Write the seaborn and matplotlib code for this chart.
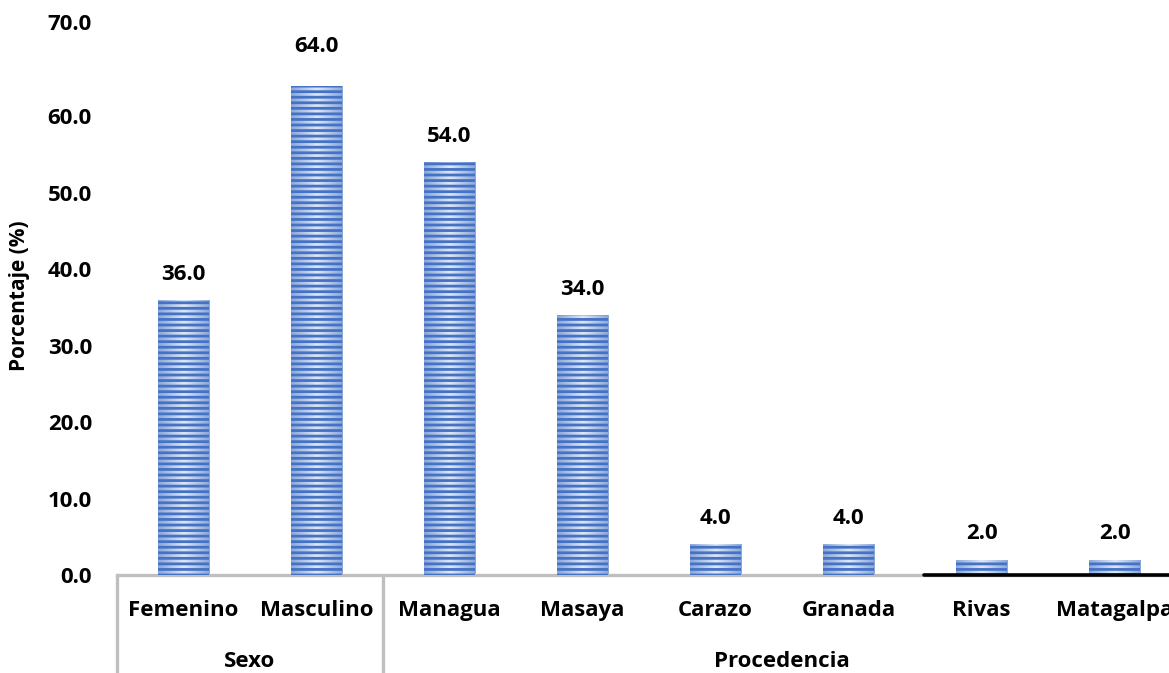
import numpy as np
import pandas as pd
import seaborn as sns
import matplotlib.pyplot as plt
import matplotlib.transforms as mtrans
from matplotlib.lines import Line2D
from matplotlib.colors import LinearSegmentedColormap

# Datos
categorias = ["Femenino", "Masculino", "Managua", "Masaya",
              "Carazo", "Granada", "Rivas", "Matagalpa"]
porcentajes = [36.0, 64.0, 54.0, 34.0, 4.0, 4.0, 2.0, 2.0]
grupos = ["Sexo", "Sexo", "Procedencia", "Procedencia",
          "Procedencia", "Procedencia", "Procedencia", "Procedencia"]
ticks_y = [0, 10, 20, 30, 40, 50, 60, 70]

sns.set_theme(style="white")
plt.rcParams["font.family"] = ["Open Sans", "DejaVu Sans"]
plt.rcParams["font.weight"] = "bold"
plt.rcParams["hatch.linewidth"] = 2.0
for k in ["text.color", "axes.labelcolor", "xtick.color", "ytick.color"]:
    plt.rcParams[k] = "black"

FS = 16
W, H = 1169, 673
fig = plt.figure(figsize=(W / 100, H / 100), dpi=100)
ax = fig.add_axes([117 / W, 98 / H, 1064 / W, 535 / H])

df = pd.DataFrame({"categoria": categorias, "porcentaje": porcentajes})
sns.barplot(data=df, x="categoria", y="porcentaje", ax=ax, width=0.39,
            color="#9DB5E3", edgecolor="#4472C4", linewidth=0, hatch="---",
            saturation=1)

# Relleno degradado (oscuro en los bordes, claro al centro) bajo las rayas
cmap = LinearSegmentedColormap.from_list(
    "barra", ["#8AA6DA", "#DFE7F6", "#8AA6DA"])
grad = np.linspace(0, 1, 256).reshape(1, -1)
for p in ax.patches:
    p.set_facecolor("none")
    p.set_zorder(3)
    x0, y0 = p.get_x(), p.get_y()
    im = ax.imshow(grad, cmap=cmap, aspect="auto", zorder=2,
                   extent=[x0, x0 + p.get_width(), y0, y0 + p.get_height()])
    im.set_clip_path(p)
ax.set_xlim(-0.5, len(categorias) - 0.5)
ax.set_ylim(0, 70)

# Etiquetas de valor (la del máximo, algo más alta)
vmax = max(porcentajes)
for cont in ax.containers:
    etiquetas = ax.bar_label(cont, fmt="%.1f", padding=11, fontsize=FS,
                             fontweight="bold", color="black")
    for et, v in zip(etiquetas, cont.datavalues):
        if v == vmax:
            dx, dy = et.xyann
            et.xyann = (dx, dy + 9.5)

# Ejes
ax.set_yticks(ticks_y)
ax.set_yticklabels([f"{v:.1f}" for v in ticks_y], fontsize=FS,
                   fontweight="bold")
ax.tick_params(axis="y", length=0, pad=18)
ax.tick_params(axis="x", length=0, pad=18, labelsize=FS)
for lab in ax.get_xticklabels():
    lab.set_fontweight("bold")
top_lab = ax.get_yticklabels()[-1]
top_lab.set_transform(top_lab.get_transform() +
                      mtrans.ScaledTranslation(0, 18 / 100, fig.dpi_scale_trans))

ax.set_xlabel("")
ax.set_ylabel("Porcentaje (%)", fontsize=15, fontweight="bold")
ax.yaxis.set_label_coords(-0.082, 0.523)

for s in ["top", "right", "left"]:
    ax.spines[s].set_visible(False)
ax.spines["bottom"].set_color("#BFBFBF")
ax.spines["bottom"].set_linewidth(2.4)

# Tramo negro del eje
ax.add_line(Line2D([5.57, 8.0], [0, 0], color="black", lw=2.6,
                   clip_on=False, zorder=4))

# Separadores y etiquetas de grupo
trans = mtrans.blended_transform_factory(ax.transData, ax.transAxes)
y_fondo = (575 - 680) / 535
orden = list(dict.fromkeys(grupos))
for g in orden:
    idx = [i for i, gg in enumerate(grupos) if gg == g]
    ax.add_line(Line2D([idx[0] - 0.5, idx[0] - 0.5], [0, y_fondo],
                       transform=trans, color="#BFBFBF", lw=2.4,
                       clip_on=False))
    ax.text((idx[0] + idx[-1]) / 2, -0.161, g, transform=trans,
            ha="center", va="center", fontsize=FS, fontweight="bold")

fig.savefig("out.png", dpi=100)
